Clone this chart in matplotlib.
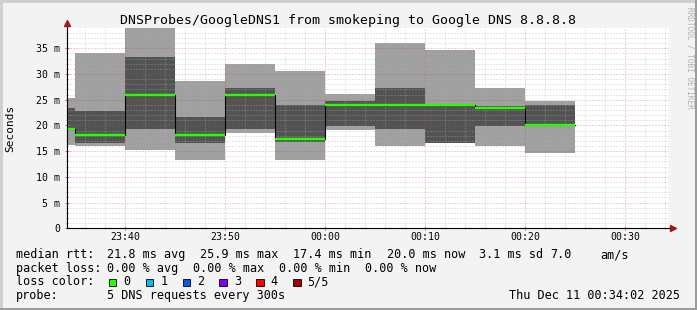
import numpy as np
import matplotlib
matplotlib.use('Agg')
import matplotlib.pyplot as plt
from matplotlib.patches import Rectangle

W, H = 697, 310

# 5 minute rrd steps, start of each step
seg_start = ["23:30", "23:35", "23:40", "23:45", "23:50", "23:55",
             "00:00", "00:05", "00:10", "00:15", "00:20"]
# sorted ping rtts per step (ms): min, 2nd, median, 4th, max
ping_min = [16.2, 16.1, 15.2, 13.3, 18.6, 13.3, 19.2, 16.0, 16.6, 16.1, 14.6]
ping_lo  = [19.4, 16.6, 19.4, 16.6, 19.3, 16.8, 19.9, 19.4, 16.6, 19.9, 19.8]
ping_med = [19.4, 18.1, 25.9, 18.1, 25.9, 17.4, 24.0, 24.0, 24.0, 23.3, 20.0]
ping_hi  = [23.3, 22.9, 33.3, 21.6, 27.3, 24.0, 24.7, 27.3, 24.2, 23.8, 24.0]
ping_max = [25.3, 34.1, 38.9, 28.7, 32.0, 30.6, 26.1, 36.1, 34.7, 27.3, 24.7]

ytick_vals = [0, 5, 10, 15, 20, 25, 30, 35]
xtick_labels = ["23:40", "23:50", "00:00", "00:10", "00:20", "00:30"]

loss_labels = ["0", "1", "2", "3", "4", "5/5"]
loss_colors = ["#26ff00", "#00b8ff", "#0059ff", "#7e00ff", "#ff0000", "#a00000"]

title = "DNSProbes/GoogleDNS1 from smokeping to Google DNS 8.8.8.8"


def to_min(s):
    # minutes relative to 23:40, wrapping past midnight
    h, m = map(int, s.split(":"))
    t = h * 60 + m
    if h < 12:
        t += 1440
    return t - (23 * 60 + 40)


plt.rcParams['font.family'] = 'DejaVu Sans Mono'

fig = plt.figure(figsize=(W / 100, H / 100), dpi=100, facecolor='#f3f3f3')
ax = fig.add_axes([67 / W, 1 - 228.3 / H, (669 - 67) / W, (228.3 - 28) / H])
ax.set_facecolor('white')

x = [to_min(s) for s in seg_start]
x = x + [x[-1] + 5]

def ext(v):
    return list(v) + [v[-1]]

ax.fill_between(x, ext(ping_min), ext(ping_max), step='post', color='#a0a0a0', lw=0, zorder=1)
ax.fill_between(x, ext(ping_lo), ext(ping_hi), step='post', color='#535353', lw=0, zorder=2)
ax.step(x, ext(ping_med), where='post', color='black', lw=0.8, zorder=3)
ax.hlines(ping_med, x[:-1], x[1:], color=loss_colors[0], lw=1.7, zorder=4)

ax.set_xlim(-5.85, 54.35)
ax.set_ylim(0, 38.95)

# ticks and grid
ax.set_xticks([to_min(s) for s in xtick_labels])
ax.set_xticklabels(xtick_labels)
ax.set_xticks(np.arange(-4, 56, 2), minor=True)
ax.set_yticks(ytick_vals)
ax.set_yticklabels([f"{v} m" if v else "0" for v in ytick_vals])
ax.set_yticks(np.arange(0, 39, 1), minor=True)

ax.set_axisbelow(False)
ax.grid(which='minor', color='#b0b0b0', alpha=0.6, lw=0.72, linestyle=(0, (1, 2)), zorder=5)
ax.grid(which='major', color='#d04040', alpha=0.5, lw=0.72, linestyle=(0, (1, 2)), zorder=6)

ax.tick_params(which='major', direction='inout', length=3, width=0.7, color='#d06060',
               labelsize=7.1, labelcolor='black')
ax.tick_params(axis='x', which='major', pad=1.5)
ax.tick_params(axis='y', which='major', pad=3.5)
ax.tick_params(which='minor', direction='inout', length=2, width=0.7, color='#b0b0b0')

for s in ['top', 'right']:
    ax.spines[s].set_visible(False)
for s in ['left', 'bottom']:
    ax.spines[s].set_color('black')
    ax.spines[s].set_linewidth(0.8)
    ax.spines[s].set_zorder(7)

# axis arrows
ax.plot([0, 0], [1, 1.022], transform=ax.transAxes, color='black', lw=0.8, clip_on=False, zorder=7)
ax.plot([1, 1.006], [0, 0], transform=ax.transAxes, color='black', lw=0.8, clip_on=False, zorder=7)
ax.plot([0], [1.025], transform=ax.transAxes, marker='^', ms=4.5, color='#a01818', clip_on=False, zorder=8)
ax.plot([1.007], [0], transform=ax.transAxes, marker='>', ms=4.5, color='#a01818', clip_on=False, zorder=8)

# texts
fig.text(348 / W, 1 - 24 / H, title, ha='center', va='baseline', size=9.5)
fig.text(10.5 / W, 1 - 128 / H, "Seconds", rotation=90, ha='center', va='center', size=8)
fig.text(690 / W, 1 - 58 / H, "RRDTOOL / TOBI OETIKER", rotation=-90, ha='center', va='center',
         size=5.6, color='#b0b0b0')

lsize = 8.5
rows = [
    (258, [(16, "median rtt:"), (107.3, "21.8 ms avg"), (200, "25.9 ms max"), (293.3, "17.4 ms min"),
           (386.7, "20.0 ms now"), (479.3, "3.1 ms sd"), (550, "7.0"), (600, "am/s")]),
    (271.7, [(16, "packet loss:"), (107.3, "0.00 % avg"), (193.3, "0.00 % max"),
             (279.3, "0.00 % min"), (365, "0.00 % now")]),
    (285.3, [(16, "loss color:")]),
    (299.3, [(16, "probe:"), (107.3, "5 DNS requests every 300s")]),
]
for yb, items in rows:
    for xp, t in items:
        fig.text(xp / W, 1 - yb / H, t, ha='left', va='baseline', size=lsize)

sw_x = [108.7, 145.7, 182.7, 219.3, 256.3, 293.3]
lab_x = [123.3, 160.3, 197.3, 234, 270.7, 307.3]
for sx, lx, lab, col in zip(sw_x, lab_x, loss_labels, loss_colors):
    fig.add_artist(Rectangle((sx / W, 1 - 286 / H), 7.3 / W, 7.3 / H, transform=fig.transFigure,
                             facecolor=col, edgecolor='black', lw=0.6))
    fig.text(lx / W, 1 - 285.3 / H, lab, ha='left', va='baseline', size=lsize)

fig.text(680 / W, 1 - 299.3 / H, "Thu Dec 11 00:34:02 2025", ha='right', va='baseline', size=lsize)

# canvas frame
fig.add_artist(Rectangle((0, 1 - 2.5 / H), 1, 2.5 / H, transform=fig.transFigure, color='#d0d0d0', lw=0))
fig.add_artist(Rectangle((0, 0), 2.5 / W, 1, transform=fig.transFigure, color='#d0d0d0', lw=0))
fig.add_artist(Rectangle((1 - 2.5 / W, 0), 2.5 / W, 1, transform=fig.transFigure, color='#9c9c9c', lw=0))
fig.add_artist(Rectangle((0, 0), 1, 2.5 / H, transform=fig.transFigure, color='#9c9c9c', lw=0))

fig.savefig('out.png', dpi=100, facecolor=fig.get_facecolor())
